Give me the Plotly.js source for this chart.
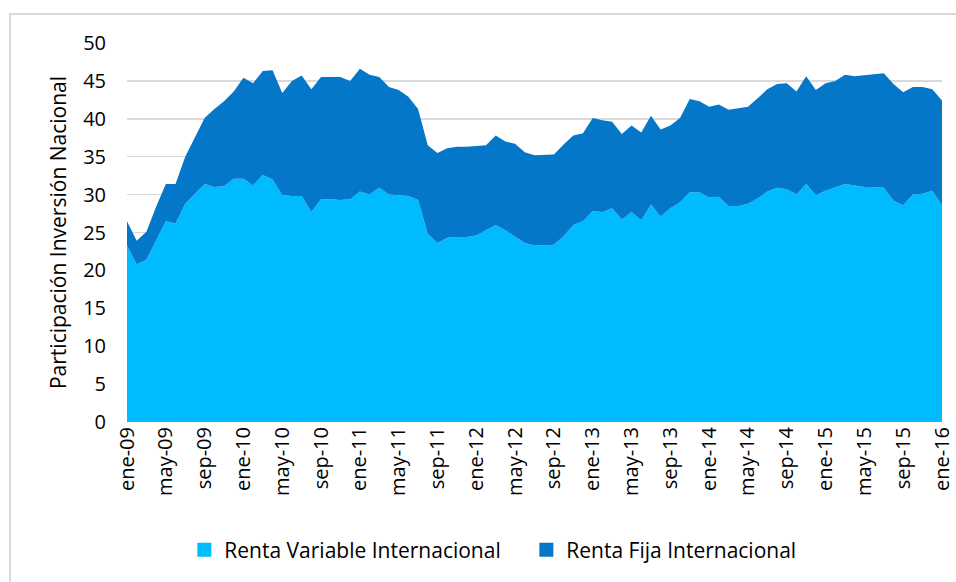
<!DOCTYPE html>
<html>
<head>
<meta charset="utf-8">
<script src="https://cdn.plot.ly/plotly-3.0.1.min.js"></script>
<style>
  html, body { margin: 0; padding: 0; background: #ffffff; }
  #chart { width: 956px; height: 582px; }
</style>
</head>
<body>
<div id="chart"></div>
<script>
// Month abbreviations (Spanish) and years for category labels
const monthNames = ["ene","feb","mar","abr","may","jun","jul","ago","sep","oct","nov","dic"];
const startYear = 9;   // 2009
const nMonths = 85;    // ene-09 .. ene-16

// Renta Variable Internacional (bottom layer)
const rentaVariable = [
  23.3, 20.8, 21.4, 23.9, 26.5, 26.2, 28.8, 30.1, 31.4, 31.0, 31.1, 32.1,
  32.1, 31.2, 32.6, 32.0, 29.9, 29.8, 29.8, 27.7, 29.4, 29.4, 29.3, 29.4,
  30.4, 30.0, 30.9, 30.0, 29.9, 29.8, 29.3, 24.8, 23.6, 24.3, 24.4, 24.4,
  24.6, 25.3, 26.0, 25.3, 24.5, 23.6, 23.3, 23.3, 23.4, 24.5, 26.0, 26.5,
  27.8, 27.7, 28.2, 26.7, 27.7, 26.6, 28.7, 27.1, 28.2, 29.0, 30.3, 30.3,
  29.6, 29.7, 28.5, 28.5, 28.8, 29.5, 30.4, 30.9, 30.7, 30.0, 31.4, 29.9,
  30.5, 31.0, 31.4, 31.2, 31.0, 31.0, 30.9, 29.2, 28.6, 30.0, 30.1, 30.5,
  28.6
];

// Renta Fija Internacional (stacked on top)
const rentaFija = [
  3.2, 3.1, 3.7, 4.5, 4.9, 5.2, 6.2, 7.5, 8.7, 10.3, 11.2, 11.5,
  13.3, 13.5, 13.7, 14.4, 13.5, 15.2, 15.9, 16.2, 16.1, 16.1, 16.2, 15.6,
  16.2, 15.8, 14.6, 14.2, 13.9, 13.1, 12.0, 11.7, 11.9, 11.8, 11.9, 11.9,
  11.8, 11.2, 11.8, 11.7, 12.2, 12.0, 11.9, 12.0, 11.9, 12.1, 11.8, 11.6,
  12.3, 12.1, 11.4, 11.3, 11.4, 11.6, 11.7, 11.5, 10.9, 11.1, 12.3, 12.0,
  12.0, 12.2, 12.7, 12.9, 12.8, 13.2, 13.5, 13.7, 14.0, 13.6, 14.2, 13.9,
  14.2, 14.0, 14.4, 14.4, 14.7, 14.9, 15.1, 15.4, 14.9, 14.2, 14.1, 13.4,
  13.8
];

const seriesNames = ["Renta Variable Internacional", "Renta Fija Internacional"];
const seriesColors = ["#00BBFF", "#0477C9"];
const yTicks = [0, 5, 10, 15, 20, 25, 30, 35, 40, 45, 50];

// Build category labels
const months = [];
for (let i = 0; i < nMonths; i++) {
  const y = startYear + Math.floor(i / 12);
  months.push(monthNames[i % 12] + "-" + String(y).padStart(2, "0"));
}
const xTickLabels = months.filter((m, i) => i % 4 === 0);

const FONT = "'Open Sans', sans-serif";
const FS = 20;
const FS_BIG = 21;

const traces = [
  {
    x: months, y: rentaVariable, name: seriesNames[0], showlegend: false,
    type: "scatter", mode: "lines", stackgroup: "one",
    line: { width: 0, color: seriesColors[0] }, fillcolor: seriesColors[0]
  },
  {
    x: months, y: rentaFija, name: seriesNames[1], showlegend: false,
    type: "scatter", mode: "lines", stackgroup: "one",
    line: { width: 0, color: seriesColors[1] }, fillcolor: seriesColors[1]
  },
  // legend entries (square swatches)
  {
    x: [null], y: [null], name: seriesNames[0], type: "scatter", mode: "markers",
    marker: { symbol: "square", size: 14, color: seriesColors[0] }
  },
  {
    x: [null], y: [null], name: seriesNames[1], type: "scatter", mode: "markers",
    marker: { symbol: "square", size: 14, color: seriesColors[1] }
  }
];

const layout = {
  width: 956, height: 582,
  margin: { l: 127, r: 14, t: 43, b: 160 },
  paper_bgcolor: "#ffffff", plot_bgcolor: "#ffffff",
  font: { family: FONT, size: FS, color: "#000000" },
  showlegend: true,
  legend: {
    orientation: "h", x: 0.490, xanchor: "center", y: -0.338, yanchor: "middle",
    font: { family: FONT, size: FS_BIG, color: "#000000" },
    itemwidth: 30, traceorder: "normal", entrywidth: 297
  },
  xaxis: {
    type: "category", range: [0, 84],
    tickmode: "array", tickvals: xTickLabels, ticktext: xTickLabels,
    tickangle: -90, showgrid: false, zeroline: false, showline: false,
    ticks: "", tickfont: { family: FONT, size: FS, color: "#000000" }
  },
  yaxis: {
    range: [0, 50], tickmode: "array", tickvals: yTicks,
    showgrid: true, gridcolor: "#d9d9d9", gridwidth: 1.5, zeroline: false,
    showline: false, ticks: "", ticklabelstandoff: 20,
    tickfont: { family: FONT, size: FS, color: "#000000" },
    title: { text: "Participación Inversión Nacional", standoff: 10,
             font: { family: FONT, size: FS_BIG, color: "#000000" } }
  },
  shapes: [
    { type: "rect", xref: "paper", yref: "paper",
      x0: -117/815, x1: 1.1, y0: -0.5, y1: 1 + 29/379,
      line: { color: "#d9d9d9", width: 2 }, fillcolor: "rgba(0,0,0,0)", layer: "below" }
  ]
};

Plotly.newPlot("chart", traces, layout, { displayModeBar: false, staticPlot: true });
</script>
</body>
</html>
